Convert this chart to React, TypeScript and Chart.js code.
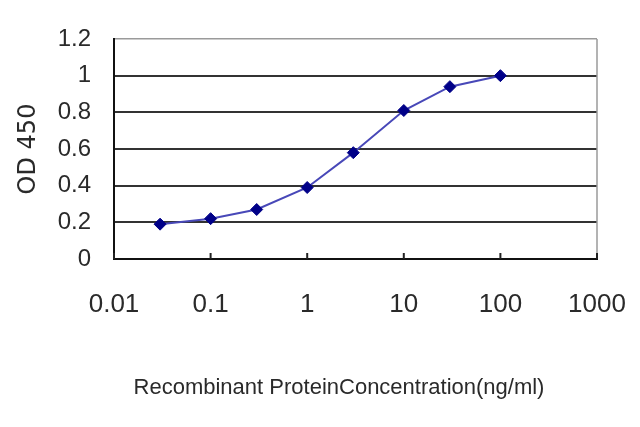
import React, { useEffect, useRef } from "react";
import { Chart, registerables } from "chart.js";

Chart.register(...registerables);

const concentrations = [0.03, 0.1, 0.3, 1, 3, 10, 30, 100];
const odValues = [0.19, 0.22, 0.27, 0.39, 0.58, 0.81, 0.94, 1.0];
const xTickValues = [0.01, 0.1, 1, 10, 100, 1000];
const xTickLabels = ["0.01", "0.1", "1", "10", "100", "1000"];
const yTickLabels = ["0", "0.2", "0.4", "0.6", "0.8", "1", "1.2"];
const xTitle = "Recombinant ProteinConcentration(ng/ml)";
const yTitle = "OD 450";

const frame = {
  id: "frame",
  afterDraw(chart: any) {
    const { ctx, chartArea } = chart;
    const xs = chart.scales.x;
    ctx.save();
    // right border (grey)
    ctx.strokeStyle = "#9a9a9a";
    ctx.lineWidth = 1.5;
    ctx.beginPath();
    ctx.moveTo(chartArea.right, chartArea.top);
    ctx.lineTo(chartArea.right, chartArea.bottom);
    ctx.stroke();
    // inward x tick marks
    ctx.strokeStyle = "#222";
    ctx.lineWidth = 2;
    xs.ticks.forEach((t: any) => {
      const px = xs.getPixelForValue(t.value);
      ctx.beginPath();
      ctx.moveTo(px, chartArea.bottom);
      ctx.lineTo(px, chartArea.bottom - 6);
      ctx.stroke();
    });
    // x axis title
    ctx.fillStyle = "#2a2a2a";
    ctx.font = "22px 'Liberation Sans', Arial, sans-serif";
    ctx.textAlign = "center";
    ctx.textBaseline = "middle";
    ctx.fillText(xTitle, 339, 388);
    ctx.restore();
  },
};

export default function App() {
  const ref = useRef<HTMLCanvasElement>(null);
  useEffect(() => {
    document.body.style.margin = "0";
    const chart = new Chart(ref.current!, {
      type: "line",
      data: {
        datasets: [
          {
            data: concentrations.map((c, i) => ({ x: c, y: odValues[i] })),
            borderColor: "#4848b8",
            borderWidth: 2,
            pointStyle: "rectRot",
            pointRadius: 6,
            pointBackgroundColor: "#000088",
            pointBorderColor: "#000088",
            pointBorderWidth: 1,
            tension: 0,
          },
        ],
      },
      options: {
        animation: false,
        responsive: false,
        events: [],
        layout: { padding: { left: 0, right: 43, top: 39, bottom: 0 } },
        plugins: { legend: { display: false }, tooltip: { enabled: false } },
        scales: {
          x: {
            type: "logarithmic",
            min: 0.01,
            max: 1000,
            afterBuildTicks: (s: any) => {
              s.ticks = xTickValues.map((v) => ({ value: v }));
            },
            afterFit: (s: any) => {
              s.height = 168;
              s.paddingLeft = 0;
              s.paddingRight = 0;
            },
            grid: { display: false, drawTicks: false },
            border: { display: true, color: "#111", width: 2 },
            ticks: {
              autoSkip: false,
              maxRotation: 0,
              padding: 30,
              color: "#2a2a2a",
              font: { family: "Liberation Sans, Arial, sans-serif", size: 26 },
              callback: (_v: any, i: number) => xTickLabels[i],
            },
          },
          y: {
            min: 0,
            max: 1.2,
            afterFit: (s: any) => {
              s.width = 114;
              s.paddingTop = 0;
              s.paddingBottom = 0;
            },
            grid: {
              drawTicks: false,
              color: (c: any) => (c.tick && Math.abs(c.tick.value - 1.2) < 1e-6 ? "#9a9a9a" : "#333"),
              lineWidth: (c: any) => (c.tick && Math.abs(c.tick.value - 1.2) < 1e-6 ? 1.5 : 2),
            },
            border: { display: true, color: "#111", width: 2 },
            ticks: {
              stepSize: 0.2,
              padding: 23,
              color: "#2a2a2a",
              font: { family: "Liberation Sans, Arial, sans-serif", size: 24 },
              callback: (_v: any, i: number) => yTickLabels[i],
            },
            title: {
              display: true,
              text: yTitle,
              color: "#2a2a2a",
              font: { family: "DejaVu Sans, sans-serif", size: 24 },
              padding: { top: 14, bottom: 0 },
            },
          },
        },
      },
      plugins: [frame],
    });
    return () => chart.destroy();
  }, []);
  return (
    <div style={{ width: 640, height: 427, background: "#fff" }}>
      <canvas ref={ref} width={640} height={427} />
    </div>
  );
}
